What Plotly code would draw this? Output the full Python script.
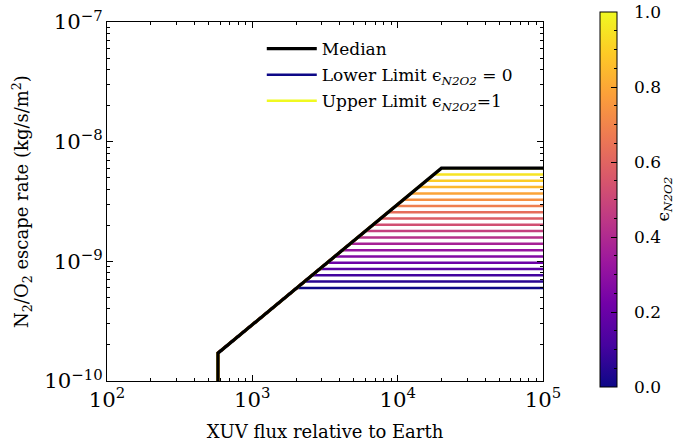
import numpy as np
import plotly.graph_objects as go
from plotly.colors import sample_colorscale

# ---- data ----
flux_onset = 580.0          # XUV flux where escape switches on
rate_onset = 1.71e-10       # escape rate at onset
flux_sat = 2.0e4            # flux where the upper limit saturates
flux_max = 1.0e5
rate_floor = 1e-12          # below axis (escape ~ 0 before onset)

# median curve
median_flux = [flux_onset, flux_onset, flux_sat, flux_max]
median_rate = [rate_floor, rate_onset, 6.0e-9, 6.0e-9]

# efficiency values and saturation plateaus (x1e-10 kg/s/m^2)
eps_values = [i / 19 for i in range(20)]
plateau_e10 = [6.00, 6.77, 7.65, 8.63, 9.74, 11.0, 12.4, 14.0, 15.8, 17.9,
               20.2, 22.8, 25.7, 29.0, 32.7, 36.9, 41.7, 47.1, 53.2, 60.0]

# colorbar ticks
cbar_major = [0.0, 0.2, 0.4, 0.6, 0.8, 1.0]
cbar_labels = ["0.0", "0.2", "0.4", "0.6", "0.8", "1.0"]
cbar_minor = [round(i * 0.05, 2) for i in range(21)]

FONT = "DejaVu Serif"
fig = go.Figure()

colors = sample_colorscale("Plasma", eps_values)
lx0, lx1 = np.log10(flux_onset), np.log10(flux_sat)
ly0, ly1 = np.log10(rate_onset), np.log10(median_rate[2])
for i, (eps, p) in enumerate(zip(eps_values, plateau_e10)):
    cap = p * 1e-10
    xb = 10 ** np.interp(np.log10(cap), [ly0, ly1], [lx0, lx1])
    xs = [flux_onset, flux_onset, xb, flux_max]
    ys = [rate_floor, rate_onset, cap, cap]
    name = None
    show = False
    rank = 1000
    if i == 0:
        name, show, rank = "Lower Limit ϵ<sub><i>N2O2</i></sub> = 0", True, 2
    elif i == len(eps_values) - 1:
        name, show, rank = "Upper Limit ϵ<sub><i>N2O2</i></sub>=1", True, 3
    fig.add_trace(go.Scatter(x=xs, y=ys, mode="lines",
                             line=dict(color=colors[i], width=2.5),
                             name=name, showlegend=show, legendgroup=f"g{i}",
                             legendrank=rank, hoverinfo="skip"))

fig.add_trace(go.Scatter(x=median_flux, y=median_rate, mode="lines",
                         line=dict(color="black", width=3.3),
                         name="Median", legendrank=1, legendgroup="median"))

# colorbar geometry (page pixels): plot area x 107..543, y 22..381
PL, PW, PB, PH = 107, 436, 381, 359
CB_X0, CB_TOP, CB_BOT = 600, 12, 387
cb_len = CB_BOT - CB_TOP
cb_yc = (PB - (CB_TOP + CB_BOT) / 2) / PH

cb_common = dict(x=(CB_X0 - PL) / PW, xanchor="left", xref="paper", xpad=0,
                 y=cb_yc, yanchor="middle", len=cb_len, lenmode="pixels", ypad=0,
                 thickness=17, ticklabeloverflow="allow",
                 tickfont=dict(family=FONT, size=17, color="black"))

# colorbar A: plasma scale with minor inside ticks
fig.add_trace(go.Scatter(
    x=[flux_max * 10], y=[1e-6], mode="markers", showlegend=False,
    hoverinfo="skip",
    marker=dict(color=[0], cmin=0, cmax=1, colorscale="Plasma", size=0.1,
                showscale=True,
                colorbar=dict(**cb_common, outlinecolor="black", outlinewidth=1,
                              ticks="inside", ticklen=3, tickcolor="black",
                              tickvals=cbar_minor, ticktext=[""] * len(cbar_minor)))))
# colorbar B: transparent overlay carrying the longer major ticks
fig.add_trace(go.Scatter(
    x=[flux_max * 10], y=[1e-6], mode="markers", showlegend=False,
    hoverinfo="skip",
    marker=dict(color=[0], cmin=0, cmax=1,
                colorscale=[[0, "rgba(0,0,0,0)"], [1, "rgba(0,0,0,0)"]], size=0.1,
                showscale=True,
                colorbar=dict(**cb_common, outlinewidth=0,
                              ticks="inside", ticklen=6, tickcolor="black",
                              tickvals=cbar_major, ticktext=[""] * len(cbar_major)))))

# colorbar labels and title as text
for v, lab in zip(cbar_major, cbar_labels):
    fig.add_annotation(x=(632 - PL) / PW, xref="paper", xanchor="left",
                       y=(PB - (CB_BOT - v * cb_len)) / PH, yref="paper",
                       yanchor="middle", text=lab, showarrow=False,
                       font=dict(family=FONT, size=17, color="black"))
fig.add_annotation(x=(664 - PL) / PW, xref="paper", xanchor="center",
                   y=cb_yc, yref="paper", yanchor="middle",
                   text="ϵ<sub><i>N2O2</i></sub>", textangle=-90, showarrow=False,
                   font=dict(family=FONT, size=17, color="black"))

axis_common = dict(type="log", showgrid=False, zeroline=False,
                   showline=True, linecolor="black", linewidth=1, mirror="ticks",
                   ticks="inside", ticklen=6, tickcolor="black",
                   tickmode="linear", tick0=0, dtick=1, exponentformat="power",
                   ticklabeloverflow="allow",
                   minor=dict(ticks="inside", ticklen=3, tickcolor="black",
                              dtick="D1", showgrid=False),
                   tickfont=dict(family=FONT, size=17, color="black"))

fig.update_xaxes(**axis_common, range=[2, 5],
                 title=dict(text="XUV flux relative to Earth", standoff=14,
                            font=dict(family=FONT, size=18, color="black")))
fig.update_yaxes(**axis_common, range=[-10, -7],
                 title=dict(text="N<sub>2</sub>/O<sub>2</sub> escape rate (kg/s/m<sup>2</sup>)",
                            standoff=10,
                            font=dict(family=FONT, size=18, color="black")))

fig.update_layout(
    width=686, height=445,
    margin=dict(l=PL, r=686 - PL - PW, t=PB - PH, b=445 - PB, autoexpand=False),
    plot_bgcolor="white", paper_bgcolor="white",
    font=dict(family=FONT, color="black"),
    legend=dict(x=0.355, y=0.975, xanchor="left", yanchor="top",
                bgcolor="rgba(0,0,0,0)", borderwidth=0, itemwidth=50,
                font=dict(family=FONT, size=17, color="black"),
                tracegroupgap=1),
    showlegend=True,
)

fig.write_html("out.html", config={"displayModeBar": False},
               post_script="document.body.style.margin='0';document.body.style.overflow='hidden';")
